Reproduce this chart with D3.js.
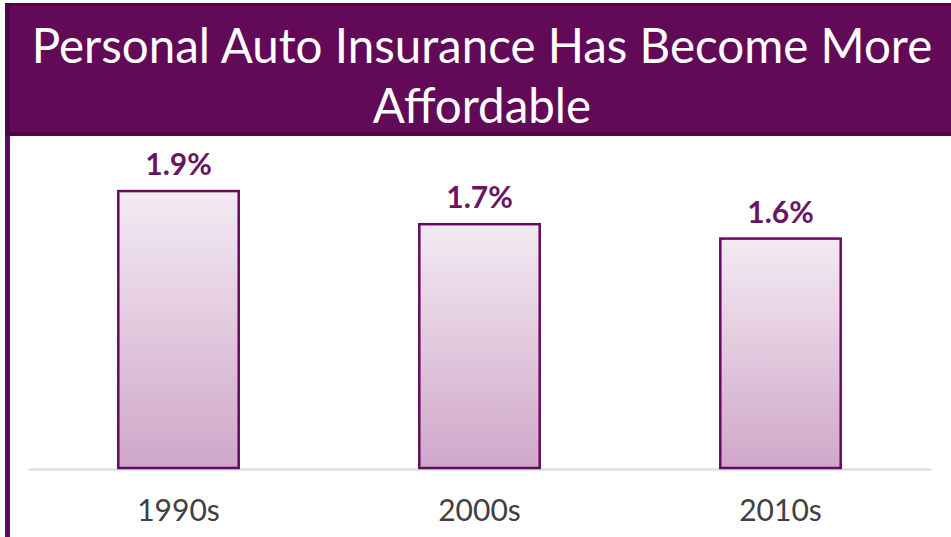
<!DOCTYPE html>
<head>
    <meta charset="utf-8">
    <title>Personal Auto Insurance</title>
    <script src="https://d3js.org/d3.v7.min.js"></script>
    <style>
        html, body {
            margin: 0;
            padding: 0;
            background: #fff;
        }
        svg {
            display: block;
            font-family: Lato, "Noto Sans", sans-serif;
        }
    </style>
</head>
<body>
    <svg id="chart" width="951" height="537"></svg>
    <script>
        // data
        var titleLines = ["Personal Auto Insurance Has Become More", "Affordable"];
        var decades = ["1990s", "2000s", "2010s"];
        var shareOfIncome = [1.93, 1.70, 1.60];

        var W = 951, H = 537;
        var purple = "#620a57";
        var svg = d3.select("#chart");

        var defs = svg.append("defs");
        var grad = defs.append("linearGradient")
            .attr("id", "barFill")
            .attr("x1", 0).attr("y1", 0).attr("x2", 0).attr("y2", 1);
        grad.append("stop").attr("offset", "0%").attr("stop-color", "#f3eaf2");
        grad.append("stop").attr("offset", "100%").attr("stop-color", "#d0a7c9");

        // left frame line
        svg.append("rect")
            .attr("x", 5).attr("y", 3)
            .attr("width", 5).attr("height", H - 3)
            .attr("fill", purple);

        // title banner
        svg.append("rect")
            .attr("x", 5).attr("y", 3)
            .attr("width", W - 5).attr("height", 133)
            .attr("fill", "#4f0546");
        svg.append("rect")
            .attr("x", 10).attr("y", 6)
            .attr("width", W - 10).attr("height", 126)
            .attr("fill", purple);

        svg.selectAll("text.title")
            .data(titleLines)
            .enter().append("text")
            .attr("class", "title")
            .attr("x", 482)
            .attr("y", function (d, i) { return 63 + i * 60; })
            .attr("text-anchor", "middle")
            .attr("fill", "#fff")
            .style("font-size", "47.5px")
            .text(function (d) { return d; });

        // scales
        var baseY = 469;
        var x = d3.scaleBand()
            .domain(decades)
            .range([28, 931])
            .paddingInner(0.6)
            .paddingOuter(0.3);
        var y = d3.scaleLinear()
            .domain([0, 2])
            .range([baseY, baseY - 288]);

        var rows = decades.map(function (d, i) { return { decade: d, value: shareOfIncome[i] }; });

        // baseline / x axis
        var xAxis = svg.append("g")
            .attr("transform", "translate(0," + baseY + ")")
            .call(d3.axisBottom(x).tickSize(0).tickPadding(31));
        xAxis.select(".domain")
            .attr("stroke", "#dde1e6")
            .attr("stroke-width", 2.5);
        xAxis.selectAll(".tick text")
            .attr("fill", "#404040")
            .style("font-size", "30px")
            .style("font-family", "Lato, 'Noto Sans', sans-serif");

        // bars
        svg.selectAll("rect.bar")
            .data(rows)
            .enter().append("rect")
            .attr("class", "bar")
            .attr("x", function (d) { return x(d.decade); })
            .attr("y", function (d) { return y(d.value); })
            .attr("width", x.bandwidth())
            .attr("height", function (d) { return baseY - 1 - y(d.value); })
            .attr("fill", "url(#barFill)")
            .attr("stroke", "#640a62")
            .attr("stroke-width", 2.5);

        // value labels
        svg.selectAll("text.val")
            .data(rows)
            .enter().append("text")
            .attr("class", "val")
            .attr("x", function (d) { return x(d.decade) + x.bandwidth() / 2; })
            .attr("y", function (d) { return y(d.value) - 16; })
            .attr("text-anchor", "middle")
            .attr("fill", "#6a1464")
            .style("font-size", "30px")
            .style("font-weight", "bold")
            .text(function (d) { return d3.format(".1f")(d.value) + "%"; });
    </script>
</body>
